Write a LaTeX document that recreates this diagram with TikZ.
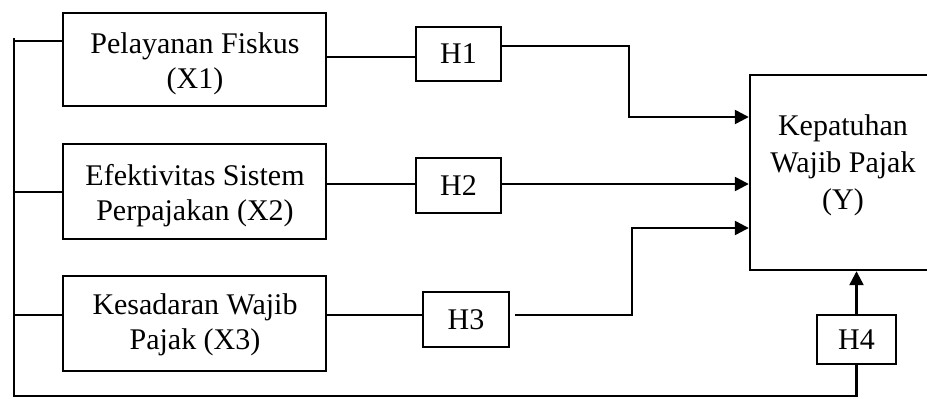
\documentclass[tikz,border=0pt]{standalone}
\usepackage{fontspec}
\setmainfont{Liberation Serif}
\usetikzlibrary{arrows.meta}
\begin{document}
\begin{tikzpicture}[x=1pt,y=-1pt,
  every node/.style={font=\fontsize{30}{35}\selectfont},
  box/.style={draw, line width=2.4pt, inner sep=0pt, align=center},
  txt/.style={align=center, inner sep=0pt},
  conn/.style={line width=2.4pt},
  arr/.style={conn, -{Triangle[length=14pt,width=14pt]}}]
\useasboundingbox (0,0) rectangle (927,399);
% variable boxes
\node[box, minimum width=263pt, minimum height=93pt] (X1) at (194.5,59.5) {};
\node[txt] (X1t) at (195,64) {Pelayanan Fiskus\\(X1)};
\node[box, minimum width=263pt, minimum height=95pt] (X2) at (194.5,191.5) {};
\node[txt] (X2t) at (195,196) {Efektivitas Sistem\\Perpajakan (X2)};
\node[box, minimum width=263pt, minimum height=95pt] (X3) at (194.5,323.5) {};
\node[txt] (X3t) at (195,325) {Kesadaran Wajib\\Pajak (X3)};
% hypothesis boxes
\node[box, minimum width=85pt, minimum height=54pt] (H1) at (458.5,54) {H1};
\node[box, minimum width=85pt, minimum height=55pt] (H2) at (458.5,185.5) {H2};
\node[box, minimum width=86pt, minimum height=55pt] (H3) at (466,319.5) {H3};
\node[box, minimum width=79pt, minimum height=49pt] (H4) at (856.5,339.5) {H4};
% dependent
\node[box, minimum width=186pt, minimum height=195pt] (Y) at (843,172.5) {};
\node[txt, font=\fontsize{30}{37}\selectfont] (Yt) at (843,165) {Kepatuhan\\Wajib Pajak\\(Y)};
% bus
\coordinate (bt) at (14,38);
\coordinate (bb) at (14,396);
\draw[conn] (bt) -- (bb) -- (bb -| H4.south) -- (H4.south);
\draw[conn] (14,41) -- (X1.west |- 0,41);
\draw[conn] (14,192) -- (X2.west |- 0,192);
\draw[conn] (14,315) -- (X3.west |- 0,315);
% X to H
\draw[conn] (X1.east |- 0,57) -- (H1.west |- 0,57);
\draw[conn] (X2.east |- 0,184) -- (H2.west |- 0,184);
\draw[conn] (X3.east |- 0,315) -- (H3.west |- 0,315);
% H to Y
\draw[arr] (H1.east |- 0,46) -- (629,46) -- (629,117) -- (Y.west |- 0,117);
\draw[arr] (H2.east |- 0,184) -- (Y.west |- 0,184);
\draw[arr, shorten <=5pt] (H3.east |- 0,315) -- (632,315) -- (632,228) -- (Y.west |- 0,228);
\draw[arr] (H4.north) -- (Y.south -| H4.north);
\end{tikzpicture}
\end{document}
